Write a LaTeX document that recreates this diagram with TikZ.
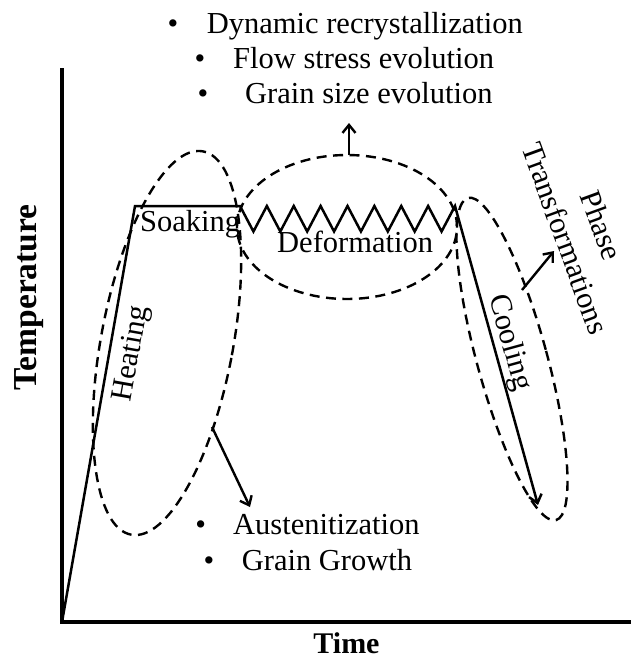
\documentclass[tikz,border=0pt]{standalone}
\usepackage{fontspec}
\setmainfont{Liberation Serif}
\usetikzlibrary{arrows.meta}
\begin{document}
\begin{tikzpicture}[x=1pt,y=-1pt,
  txt/.style={inner sep=0pt, font=\fontsize{30.5}{38}\selectfont},
  lbl/.style={inner sep=0pt, font=\fontsize{30}{36}\selectfont\bfseries},
  axisline/.style={line width=3.5pt, line join=miter},
  curve/.style={line width=2.5pt, line join=miter},
  ring/.style={line width=2.4pt, dash pattern=on 10pt off 6.5pt},
  pointer/.style={line width=2.4pt, -{Straight Barb[length=8pt,width=13pt]}},
]
\useasboundingbox (0,0) rectangle (631,657);

% axes
\coordinate (O) at (62,622);
\coordinate (Ytop) at (62,68);
\coordinate (Xend) at (631,622);
\draw[axisline] (Ytop) -- (O) -- (Xend);
\node[lbl, font=\fontsize{33.5}{40}\selectfont\bfseries, rotate=90, anchor=base] (temp) at (36,297.5) {Temperature};
\node[lbl, anchor=base] (time) at (346.5,653) {Time};

% temperature--time route: heating, soaking, deformation, cooling
\coordinate (A) at (135,206);
\coordinate (B) at (240,206);
\coordinate (D) at (538,505);
\draw[curve, -{Straight Barb[length=8pt,width=13pt]}] (O) -- (A) -- (B)
  \foreach \k in {1,...,8}{ -- ++(13.4375,25.5) -- ++(13.4375,-25.5) } -- (D);

% stage labels
\node[txt, anchor=base west] (soak) at (140,231) {Soaking};
\node[txt, anchor=base west] (deform) at (277,252) {Deformation};
\node[txt, rotate=80, anchor=base] (heat) at (139,355) {Heating};
\node[txt, rotate=-74.6, anchor=base] (cool) at (502.5,345) {Cooling};
\node[txt, rotate=-70, align=center] (phase) at (583.5,232) {Phase\\Transformations};

% dashed groupings
\draw[ring, rotate around={-10.6:(167,343)}] (167,343) ellipse [x radius=66pt, y radius=195pt];
\draw[ring] (347,227) ellipse [x radius=110pt, y radius=72pt];
\draw[ring, rotate around={15.3:(512,359)}] (512,359) ellipse [x radius=35pt, y radius=167pt];

% pointers from the groupings
\coordinate (defTop) at (349,155);
\coordinate (defTip) at (349,123);
\coordinate (heatEdge) at (212,427);
\coordinate (heatTip) at (250,507);
\coordinate (coolEdge) at (522,290);
\coordinate (coolTip) at (554,251);
\draw[pointer] (defTop) -- (defTip);
\draw[pointer] (heatEdge) -- (heatTip);
\draw[pointer] (coolEdge) -- (coolTip);

% deformation phenomena
\node[txt, anchor=base] (b1) at (173,33.3) {•};
\node[txt, anchor=base west] (t1) at (206.7,33.3) {Dynamic recrystallization};
\node[txt, anchor=base] (b2) at (200,68) {•};
\node[txt, anchor=base west] (t2) at (233,68) {Flow stress evolution};
\node[txt, anchor=base] (b3) at (203,103) {•};
\node[txt, anchor=base west] (t3) at (245,103) {Grain size evolution};

% heating and soaking phenomena
\node[txt, anchor=base] (b4) at (200.7,534) {•};
\node[txt, anchor=base west] (t4) at (233,534) {Austenitization};
\node[txt, anchor=base] (b5) at (209,570.7) {•};
\node[txt, anchor=base west] (t5) at (241.7,570.7) {Grain Growth};
\end{tikzpicture}
\end{document}
